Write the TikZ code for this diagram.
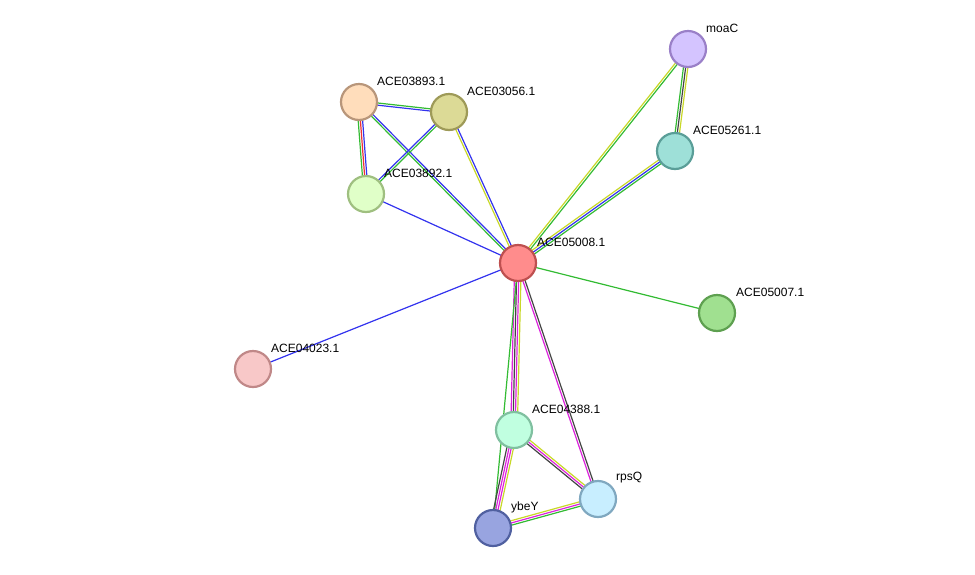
\documentclass[tikz,border=0pt]{standalone}
\usepackage{fontspec}
\setmainfont{Liberation Sans}
\usetikzlibrary{calc}
\pgfdeclarelayer{bg}\pgfsetlayers{bg,main}
\definecolor{eblue}{HTML}{3333EE}
\definecolor{egreen}{HTML}{33BB33}
\definecolor{eyellow}{HTML}{C8D828}
\definecolor{ered}{HTML}{EE3333}
\definecolor{emag}{HTML}{DD22DD}
\definecolor{eblack}{HTML}{444444}
\newcommand\mEdge[3]{%
 \foreach \c [count=\i] in {#3} {\xdef\nE{\i}}%
 \foreach \c [count=\i] in {#3} {%
   \pgfmathsetmacro\off{(\i-(\nE+1)/2)*2.2}%
   \draw[\c,line width=1.2pt] ($(#1)!\off pt!90:(#2)$) -- ($(#2)!\off pt!-90:(#1)$);}}
\tikzset{prot/.style={circle,minimum size=36pt,inner sep=0pt,line width=2.2pt},
 lab/.style={anchor=west,font=\fontsize{12}{14}\selectfont,inner sep=0pt}}
\begin{document}
\begin{tikzpicture}[x=1pt,y=-1pt]
\useasboundingbox (0,0) rectangle (975,574);
\node[prot,fill={rgb,255:red,255;green,140;blue,140},draw={rgb,255:red,190;green,80;blue,80}] (c) at (518,263) {};
\node[prot,fill={rgb,255:red,255;green,221;blue,187},draw={rgb,255:red,184;green,150;blue,122}] (a893) at (359,102) {};
\node[prot,fill={rgb,255:red,220;green,218;blue,150},draw={rgb,255:red,158;green,154;blue,88}] (a056) at (449,112) {};
\node[prot,fill={rgb,255:red,224;green,255;blue,200},draw={rgb,255:red,159;green,191;blue,128}] (a892) at (366,194) {};
\node[prot,fill={rgb,255:red,212;green,196;blue,255},draw={rgb,255:red,154;green,128;blue,200}] (moa) at (688,49) {};
\node[prot,fill={rgb,255:red,158;green,224;blue,216},draw={rgb,255:red,90;green,158;blue,152}] (a261) at (675,151) {};
\node[prot,fill={rgb,255:red,160;green,224;blue,144},draw={rgb,255:red,94;green,160;blue,80}] (a007) at (717,313) {};
\node[prot,fill={rgb,255:red,248;green,200;blue,200},draw={rgb,255:red,192;green,136;blue,136}] (a023) at (253,369) {};
\node[prot,fill={rgb,255:red,192;green,255;blue,224},draw={rgb,255:red,128;green,192;blue,160}] (a388) at (514,430) {};
\node[prot,fill={rgb,255:red,200;green,238;blue,255},draw={rgb,255:red,128;green,168;blue,192}] (rps) at (598,499) {};
\node[prot,fill={rgb,255:red,152;green,164;blue,224},draw={rgb,255:red,80;green,96;blue,160}] (ybe) at (493,528) {};
\begin{pgfonlayer}{bg}
\mEdge{c}{a893}{eblue,egreen}
\mEdge{c}{a056}{eblue,eyellow}
\mEdge{c}{a892}{eblue}
\mEdge{c}{a023}{eblue}
\mEdge{c}{a007}{egreen}
\mEdge{c}{moa}{egreen,eyellow}
\mEdge{c}{a261}{egreen,eblue,eyellow}
\mEdge{a893}{a056}{eblue,egreen}
\mEdge{a893}{a892}{egreen,ered,eblue}
\mEdge{a056}{a892}{eblue,egreen}
\mEdge{moa}{a261}{egreen,eblack,eyellow}
\mEdge{c}{a388}{emag,eblack,emag,eyellow}
\mEdge{c}{ybe}{egreen}
\mEdge{c}{rps}{emag,eblack}
\mEdge{a388}{ybe}{eblack,emag,emag,eyellow}
\mEdge{a388}{rps}{eblack,emag,eyellow}
\mEdge{ybe}{rps}{egreen,emag,eyellow}
\end{pgfonlayer}
\node[lab] (l1) at (537,242) {ACE05008.1};
\node[lab] (l2) at (377,81) {ACE03893.1};
\node[lab] (l3) at (467,91) {ACE03056.1};
\node[lab] (l4) at (384,173) {ACE03892.1};
\node[lab] (l5) at (706,28) {moaC};
\node[lab] (l6) at (693,130) {ACE05261.1};
\node[lab] (l7) at (736,292) {ACE05007.1};
\node[lab] (l8) at (271,348) {ACE04023.1};
\node[lab] (l9) at (532,409) {ACE04388.1};
\node[lab] (l10) at (616,478) {rpsQ};
\node[lab] (l11) at (511,507) {ybeY};
\end{tikzpicture}
\end{document}
